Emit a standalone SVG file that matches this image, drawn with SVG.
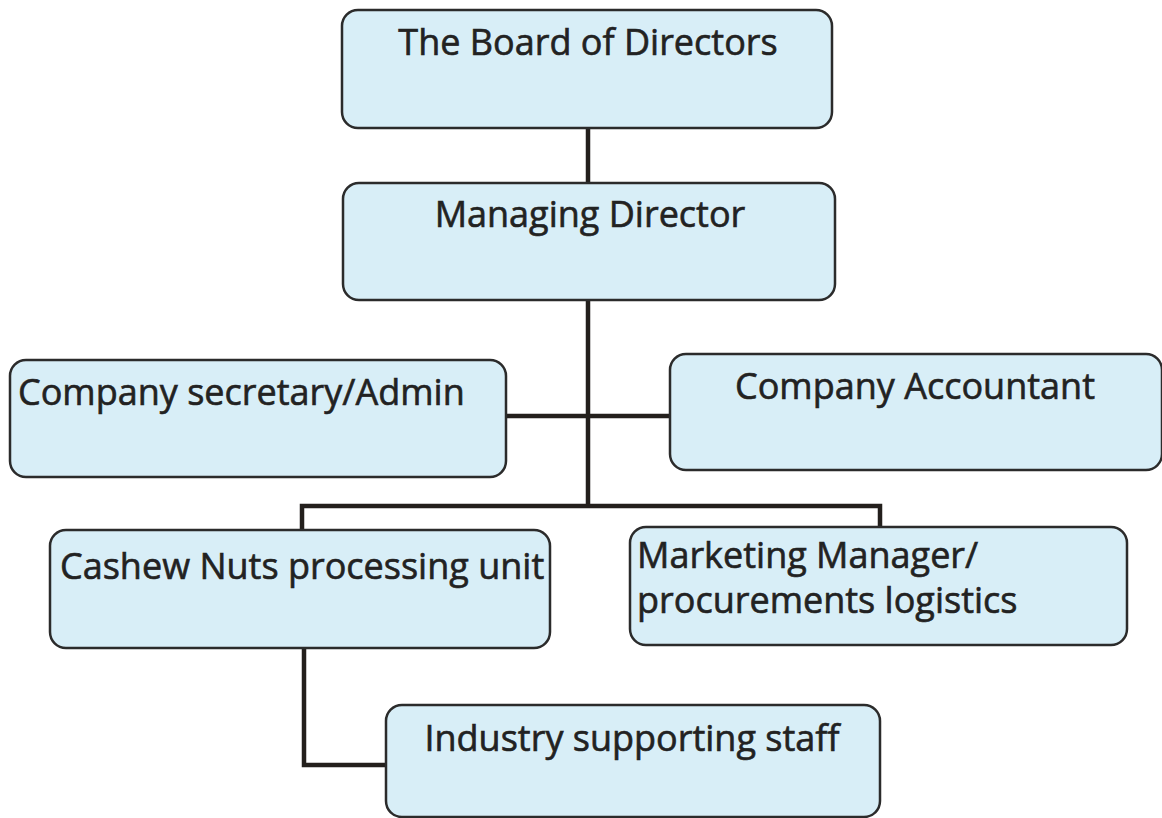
<svg xmlns="http://www.w3.org/2000/svg" width="1162" height="818" viewBox="0 0 1162 818">
<style>
.box{fill:#d8eef7;stroke:#2b2b2b;stroke-width:2.5}
.t{font-family:"Open Sans","Liberation Sans",sans-serif;font-size:36px;fill:#222;stroke:#222;stroke-width:0.6}
.c{text-anchor:middle}
.ln{fill:none;stroke:#231f1c;stroke-width:4.5}
</style>
<rect width="1162" height="818" fill="#ffffff"/>
<g id="connectors">
<path class="ln" d="M588,128 V183"/>
<path class="ln" d="M588,300 V506"/>
<path class="ln" d="M506,416 H670"/>
<path class="ln" d="M302,530 V506 H880 V527"/>
<path class="ln" d="M304,648 V765 H386"/>
</g>
<g id="board"><rect class="box" x="342" y="10" width="490" height="118" rx="16"/><text class="t c" x="588" y="55">The Board of Directors</text></g>
<g id="md"><rect class="box" x="343" y="183" width="492" height="117" rx="16"/><text class="t c" x="590" y="227">Managing Director</text></g>
<g id="secretary"><rect class="box" x="10" y="360" width="496" height="117" rx="16"/><text class="t" x="18" y="405">Company secretary/Admin</text></g>
<g id="accountant"><rect class="box" x="670" y="354" width="492" height="116" rx="16"/><text class="t c" x="915" y="399">Company Accountant</text></g>
<g id="cashew"><rect class="box" x="50" y="530" width="500" height="118" rx="16"/><text class="t" x="60" y="579">Cashew Nuts processing unit</text></g>
<g id="marketing"><rect class="box" x="630" y="527" width="497" height="118" rx="16"/><text class="t" x="637" y="568">Marketing Manager/</text><text class="t" x="637" y="613">procurements logistics</text></g>
<g id="staff"><rect class="box" x="386" y="705" width="494" height="112" rx="16"/><text class="t c" x="632" y="751">Industry supporting staff</text></g>
</svg>
